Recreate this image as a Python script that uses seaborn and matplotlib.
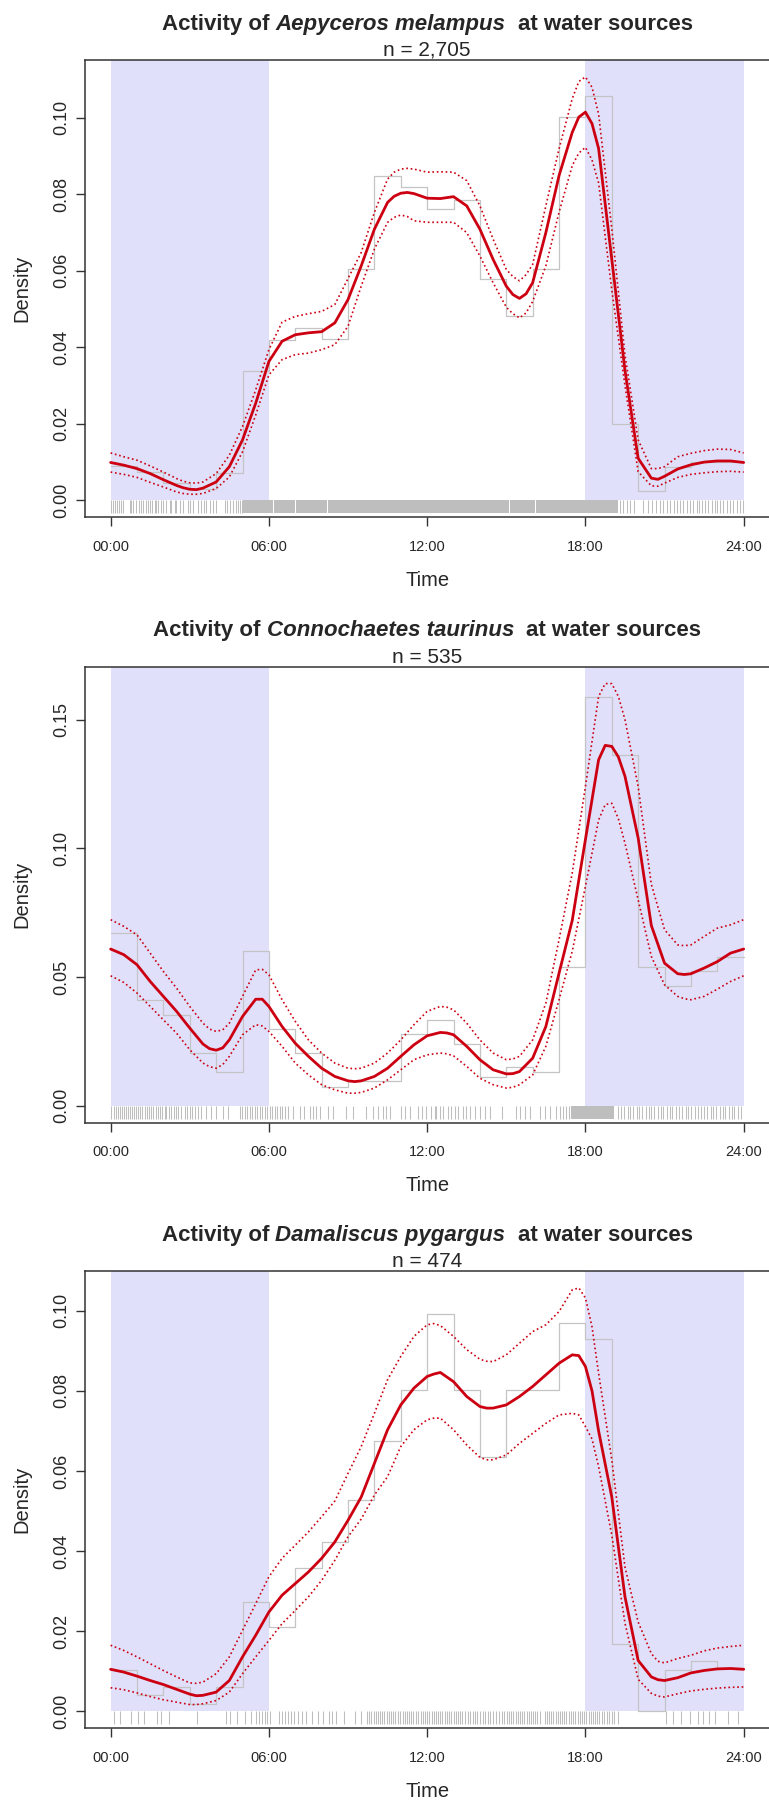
import numpy as np
import pandas as pd
import seaborn as sns
import matplotlib
matplotlib.use("Agg")
import matplotlib.pyplot as plt
from matplotlib.ticker import FormatStrFormatter

sns.set_style("white")
plt.rcParams["font.family"] = ["Liberation Sans", "DejaVu Sans"]

W, H, DPI = 769, 1801, 100

# ---------------- data ----------------
species = ["Aepyceros melampus", "Connochaetes taurinus", "Damaliscus pygargus"]
n_obs = [2705, 535, 474]

hours = [0, 0.5, 1, 1.5, 2, 2.5, 3, 3.5, 4, 4.5, 5, 5.5, 6, 6.5, 7, 7.5, 8, 8.5, 9, 9.5,
         10, 10.5, 11, 11.5, 12, 12.5, 13, 13.5, 14, 14.5, 15, 15.5, 16, 16.5, 17, 17.5,
         18, 18.5, 19, 19.5, 20, 20.5, 21, 21.5, 22, 22.5, 23, 23.5, 24]
bin_edges = list(range(25))
night = [(0, 6), (18, 24)]
tick_hours = [0, 6, 12, 18, 24]
tick_labels = ["00:00", "06:00", "12:00", "18:00", "24:00"]

# Aepyceros melampus
imp_hist = [0.0090, 0.0073, 0.0045, 0.0030, 0.0072, 0.0337, 0.0418, 0.0450, 0.0422, 0.0606,
            0.0849, 0.0819, 0.0761, 0.0786, 0.0580, 0.0482, 0.0606, 0.1003, 0.1056, 0.0200,
            0.0025, 0.0088, 0.0100, 0.0100]
imp_mean = [0.0099, 0.0092, 0.0083, 0.0070, 0.0054, 0.0039, 0.0029, 0.0032, 0.0048, 0.0088,
            0.0158, 0.0254, 0.0363, 0.0416, 0.0433, 0.0438, 0.0441, 0.0464, 0.0525, 0.0613,
            0.0709, 0.0779, 0.0803, 0.0802, 0.0790, 0.0789, 0.0794, 0.0770, 0.0709, 0.0630,
            0.0560, 0.0528, 0.0569, 0.0700, 0.0849, 0.0962, 0.1015, 0.0920, 0.0630, 0.0340,
            0.0110, 0.0058, 0.0063, 0.0082, 0.0093, 0.0100, 0.0103, 0.0103, 0.0099]
imp_upper = [0.0124, 0.0114, 0.0105, 0.0090, 0.0074, 0.0057, 0.0046, 0.0048, 0.0070, 0.0118,
             0.0193, 0.0289, 0.0394, 0.0466, 0.0481, 0.0488, 0.0494, 0.0512, 0.0580, 0.0648,
             0.0753, 0.0840, 0.0866, 0.0866, 0.0858, 0.0859, 0.0858, 0.0836, 0.0770, 0.0683,
             0.0604, 0.0574, 0.0617, 0.0770, 0.0919, 0.1050, 0.1107, 0.1010, 0.0710, 0.0380,
             0.0158, 0.0083, 0.0088, 0.0114, 0.0123, 0.0130, 0.0134, 0.0133, 0.0124]
imp_lower = [0.0074, 0.0068, 0.0060, 0.0047, 0.0035, 0.0022, 0.0016, 0.0018, 0.0031, 0.0061,
             0.0127, 0.0223, 0.0328, 0.0368, 0.0381, 0.0385, 0.0394, 0.0407, 0.0455, 0.0560,
             0.0657, 0.0727, 0.0746, 0.0731, 0.0727, 0.0727, 0.0727, 0.0700, 0.0639, 0.0569,
             0.0505, 0.0477, 0.0520, 0.0613, 0.0753, 0.0875, 0.0923, 0.0830, 0.0550, 0.0300,
             0.0075, 0.0038, 0.0045, 0.0060, 0.0068, 0.0072, 0.0075, 0.0076, 0.0074]
# extra readings around peaks and troughs
imp_x_hours = [2.75, 3.25, 10.75, 11.25, 15.25, 15.75, 17.75, 18.25, 20.75]
imp_x_mean = [0.0033, 0.0028, 0.0795, 0.0805, 0.0538, 0.0540, 0.1002, 0.0985, 0.0055]
imp_x_upper = [0.0050, 0.0045, 0.0858, 0.0868, 0.0585, 0.0590, 0.1095, 0.1080, 0.0083]
imp_x_lower = [0.0018, 0.0016, 0.0740, 0.0742, 0.0488, 0.0490, 0.0908, 0.0890, 0.0037]
imp_rug = [0.03, 0.09, 0.15, 0.24, 0.32, 0.40, 0.47, 0.72, 0.78, 0.85, 0.97, 1.07, 1.16, 1.23,
           1.35, 1.42, 1.48, 1.58, 1.67, 1.73, 1.80, 1.92, 1.99, 2.11, 2.24, 2.30, 2.43, 2.49,
           2.62, 2.74, 2.93, 3.00, 3.12, 3.31, 3.44, 3.53, 3.63, 3.76, 3.88, 4.01, 4.32, 4.41,
           4.51, 4.64, 4.74, 4.83, 4.92, 4.99, 19.31, 19.41, 19.56, 19.69, 19.84, 20.19, 20.38,
           20.51, 20.67, 20.83, 20.95, 21.11, 21.21, 21.34, 21.46, 21.59, 21.71, 21.84, 21.97,
           22.09, 22.22, 22.32, 22.41, 22.54, 22.66, 22.79, 22.92, 23.00, 23.10, 23.23, 23.38,
           23.48, 23.61, 23.74, 23.86, 23.96]
imp_rug_dense = [(5.0, 6.17), (6.21, 6.98), (7.02, 8.22), (8.26, 15.09), (15.13, 16.08),
                 (16.12, 19.22)]

# Connochaetes taurinus
wil_hist = [0.0671, 0.0412, 0.0354, 0.0205, 0.0130, 0.0600, 0.0298, 0.0205, 0.0073, 0.0095,
            0.0095, 0.0278, 0.0334, 0.0241, 0.0111, 0.0150, 0.0130, 0.0539, 0.1588, 0.1364,
            0.0539, 0.0467, 0.0524, 0.0578]
wil_mean = [0.0609, 0.0587, 0.0548, 0.0483, 0.0425, 0.0367, 0.0302, 0.0240, 0.0216, 0.0256,
            0.0347, 0.0414, 0.0386, 0.0308, 0.0243, 0.0192, 0.0146, 0.0114, 0.0097, 0.0097,
            0.0114, 0.0146, 0.0192, 0.0237, 0.0272, 0.0285, 0.0276, 0.0231, 0.0179, 0.0140,
            0.0124, 0.0133, 0.0185, 0.0308, 0.0515, 0.0720, 0.1034, 0.1344, 0.1396, 0.1280,
            0.1040, 0.0700, 0.0554, 0.0513, 0.0513, 0.0535, 0.0560, 0.0593, 0.0609]
wil_upper = [0.0723, 0.0697, 0.0664, 0.0593, 0.0522, 0.0457, 0.0386, 0.0321, 0.0289, 0.0321,
             0.0425, 0.0528, 0.0509, 0.0412, 0.0328, 0.0256, 0.0205, 0.0166, 0.0146, 0.0146,
             0.0166, 0.0205, 0.0256, 0.0315, 0.0367, 0.0386, 0.0373, 0.0321, 0.0256, 0.0205,
             0.0179, 0.0192, 0.0256, 0.0399, 0.0645, 0.0904, 0.1240, 0.1590, 0.1640, 0.1500,
             0.1240, 0.0860, 0.0684, 0.0625, 0.0625, 0.0658, 0.0690, 0.0703, 0.0723]
wil_lower = [0.0505, 0.0479, 0.0438, 0.0386, 0.0334, 0.0282, 0.0218, 0.0166, 0.0146, 0.0192,
             0.0276, 0.0315, 0.0289, 0.0231, 0.0166, 0.0120, 0.0082, 0.0062, 0.0049, 0.0052,
             0.0069, 0.0101, 0.0140, 0.0179, 0.0198, 0.0205, 0.0194, 0.0153, 0.0107, 0.0082,
             0.0069, 0.0082, 0.0120, 0.0231, 0.0412, 0.0600, 0.0852, 0.1110, 0.1175, 0.1020,
             0.0800, 0.0580, 0.0470, 0.0425, 0.0412, 0.0425, 0.0453, 0.0483, 0.0505]
wil_x_hours = [3.75, 4.25, 5.75, 9.25, 12.75, 15.25, 18.75, 19.25, 21.75]
wil_x_mean = [0.0222, 0.0225, 0.0414, 0.0094, 0.0283, 0.0125, 0.1400, 0.1355, 0.0510]
wil_x_upper = [0.0298, 0.0295, 0.0530, 0.0144, 0.0383, 0.0182, 0.1640, 0.1590, 0.0622]
wil_x_lower = [0.0152, 0.0160, 0.0310, 0.0049, 0.0202, 0.0072, 0.1170, 0.1115, 0.0416]
wil_rug = [0.03, 0.11, 0.19, 0.28, 0.34, 0.42, 0.49, 0.57, 0.66, 0.72, 0.81, 0.88, 0.97, 1.04,
           1.13, 1.20, 1.29, 1.38, 1.45, 1.54, 1.61, 1.71, 1.80, 1.88, 1.96, 2.05, 2.11, 2.21,
           2.30, 2.39, 2.47, 2.55, 2.68, 2.81, 2.90, 3.00, 3.10, 3.19, 3.31, 3.44, 3.63, 3.82,
           4.01, 4.26, 4.45, 4.89, 4.99, 5.08, 5.17, 5.27, 5.37, 5.46, 5.55, 5.65, 5.75, 5.84,
           5.93, 6.03, 6.13, 6.22, 6.31, 6.41, 6.51, 6.60, 6.73, 6.92, 7.17, 7.32, 7.55, 7.67,
           7.80, 7.93, 8.24, 8.43, 8.94, 9.19, 9.70, 9.95, 10.14, 10.33, 10.43, 10.58, 11.02,
           11.15, 11.34, 11.66, 11.82, 11.97, 12.16, 12.29, 12.35, 12.48, 12.61, 12.80, 12.92,
           13.05, 13.17, 13.36, 13.49, 13.62, 13.81, 14.00, 14.19, 14.38, 14.82, 15.36, 15.51,
           15.70, 15.89, 16.27, 16.46, 16.65, 16.90, 17.03, 17.16, 17.28, 17.38, 19.25, 19.35,
           19.45, 19.60, 19.70, 19.80, 19.95, 20.05, 20.15, 20.30, 20.40, 20.50, 20.60, 20.75,
           20.85, 20.95, 21.10, 21.20, 21.30, 21.45, 21.55, 21.65, 21.80, 21.90, 22.00, 22.15,
           22.25, 22.40, 22.50, 22.60, 22.75, 22.85, 22.95, 23.10, 23.20, 23.30, 23.45, 23.55,
           23.65, 23.80, 23.90]
wil_rug_dense = [(17.45, 19.10)]

# Damaliscus pygargus
bon_hist = [0.0104, 0.0042, 0.0061, 0.0019, 0.0061, 0.0273, 0.0211, 0.0359, 0.0422, 0.0527,
            0.0675, 0.0801, 0.0992, 0.0801, 0.0634, 0.0801, 0.0801, 0.0969, 0.0929, 0.0169,
            0.0000, 0.0104, 0.0125, 0.0107]
bon_mean = [0.0105, 0.0098, 0.0088, 0.0077, 0.0067, 0.0055, 0.0043, 0.0040, 0.0048, 0.0077,
            0.0136, 0.0190, 0.0248, 0.0290, 0.0319, 0.0348, 0.0382, 0.0423, 0.0477, 0.0535,
            0.0619, 0.0703, 0.0765, 0.0807, 0.0836, 0.0846, 0.0823, 0.0786, 0.0761, 0.0757,
            0.0765, 0.0786, 0.0811, 0.0840, 0.0869, 0.0890, 0.0861, 0.0700, 0.0535, 0.0286,
            0.0127, 0.0086, 0.0077, 0.0084, 0.0096, 0.0102, 0.0106, 0.0107, 0.0105]
bon_upper = [0.0165, 0.0152, 0.0136, 0.0119, 0.0102, 0.0086, 0.0071, 0.0073, 0.0094, 0.0136,
             0.0202, 0.0269, 0.0336, 0.0382, 0.0415, 0.0448, 0.0486, 0.0525, 0.0594, 0.0661,
             0.0744, 0.0828, 0.0886, 0.0936, 0.0965, 0.0963, 0.0936, 0.0903, 0.0879, 0.0873,
             0.0890, 0.0919, 0.0948, 0.0965, 0.0998, 0.1052, 0.1032, 0.0844, 0.0628, 0.0360,
             0.0223, 0.0144, 0.0121, 0.0132, 0.0140, 0.0151, 0.0158, 0.0162, 0.0165]
bon_lower = [0.0059, 0.0054, 0.0046, 0.0037, 0.0029, 0.0023, 0.0017, 0.0019, 0.0027, 0.0048,
             0.0094, 0.0136, 0.0177, 0.0219, 0.0252, 0.0286, 0.0327, 0.0377, 0.0436, 0.0480,
             0.0540, 0.0586, 0.0661, 0.0703, 0.0728, 0.0732, 0.0703, 0.0665, 0.0634, 0.0628,
             0.0640, 0.0669, 0.0694, 0.0719, 0.0740, 0.0744, 0.0711, 0.0611, 0.0440, 0.0220,
             0.0080, 0.0045, 0.0036, 0.0044, 0.0051, 0.0055, 0.0058, 0.0060, 0.0061]
bon_x_hours = [3.25, 12.25, 14.25, 17.75, 18.25, 20.75]
bon_x_mean = [0.0039, 0.0842, 0.0757, 0.0888, 0.0800, 0.0079]
bon_x_upper = [0.0070, 0.0968, 0.0874, 0.1057, 0.0960, 0.0125]
bon_x_lower = [0.0017, 0.0732, 0.0628, 0.0740, 0.0680, 0.0038]
bon_rug = [0.14, 0.35, 0.78, 1.02, 1.26, 1.74, 1.90, 2.22, 3.29, 4.38, 4.54, 4.78, 5.10, 5.34,
           5.50, 5.62, 5.73, 5.85, 5.94, 6.05, 6.37, 6.49, 6.61, 6.74, 6.85, 6.96, 7.09, 7.25,
           7.41, 7.65, 7.86, 8.05, 8.29, 8.40, 8.53, 8.85, 9.25, 9.49, 9.72, 9.80, 9.88, 9.97,
           10.05, 10.12, 10.22, 10.30, 10.38, 10.47, 10.55, 10.63, 10.72, 10.80, 10.90, 10.98,
           11.07, 11.15, 11.23, 11.32, 11.40, 11.48, 11.57, 11.66, 11.75, 11.83, 11.92, 12.00,
           12.08, 12.17, 12.25, 12.33, 12.42, 12.50, 12.58, 12.67, 12.75, 12.83, 12.92, 13.00,
           13.08, 13.17, 13.25, 13.33, 13.42, 13.55, 13.63, 13.72, 13.80, 13.88, 14.00, 14.10,
           14.20, 14.30, 14.40, 14.50, 14.62, 14.72, 14.82, 14.92, 15.02, 15.10, 15.18, 15.27,
           15.35, 15.43, 15.52, 15.60, 15.68, 15.77, 15.85, 15.93, 16.02, 16.10, 16.18, 16.27,
           16.45, 16.53, 16.62, 16.70, 16.78, 16.87, 16.95, 17.03, 17.12, 17.20, 17.28, 17.37,
           17.45, 17.53, 17.62, 17.70, 17.78, 17.87, 17.95, 18.03, 18.12, 18.20, 18.28, 18.37,
           18.45, 18.53, 18.62, 18.70, 18.80, 18.90, 19.00, 19.10, 19.22, 21.07, 21.31, 21.63,
           21.95, 22.27, 22.46, 22.67, 22.91, 23.39, 23.79]
bon_rug_dense = []

# ---------------- style / layout ----------------
NIGHT = "#E0E0FB"
RED = "#CC0011"
HIST = "#C4C4C4"
RUG = "#BEBEBE"
SPINE = "#333333"

# panel boxes in pixels (top, bottom); axes span x from 85 px to the right edge
boxes = [(60, 517.3), (666.7, 1122.7), (1271, 1728.3)]
LEFT_PX = 85.3

fig = plt.figure(figsize=(W / DPI, H / DPI), dpi=DPI)
renderer = fig.canvas.get_renderer()


def draw_title(box_top, name, n):
    center = (LEFT_PX + W) / 2 / W
    y = 1 - (box_top - 30.3) / H
    fs = 16
    sp = fs * DPI / 72 * 0.278
    pieces = [("Activity of", "normal", 1), (name, "italic", 2), ("at water sources", "normal", 0)]
    texts, widths = [], []
    for s, st, _ in pieces:
        t = fig.text(0, y, s, fontsize=fs, fontweight="bold", fontstyle=st,
                     ha="left", va="baseline")
        texts.append(t)
        widths.append(t.get_window_extent(renderer).width)
    total = sum(widths) + 3 * sp
    x = center * W - total / 2
    for t, w, (_, _, nsp) in zip(texts, widths, pieces):
        t.set_x(x / W)
        x += w + nsp * sp
    fig.text(center, 1 - (box_top - 4) / H, f"n = {n:,}", fontsize=15,
             ha="center", va="baseline")


def plot_panel(ax, hist, curves, extra, rug, rug_dense, ystep, box_px):
    df = pd.concat([pd.DataFrame(dict(zip(["hour", "mean", "upper", "lower"], curves))),
                    pd.DataFrame(dict(zip(["hour", "mean", "upper", "lower"], extra)))],
                   ignore_index=True).sort_values("hour")
    top = df["upper"].max()
    ymin, ymax = -0.04 * top, 1.04 * top

    for a, b in night:
        ax.fill_between([a, b], 0, ymax, color=NIGHT, lw=0, zorder=0)

    rug_len = 13.0 / box_px * (ymax - ymin)
    ax.vlines(rug, -rug_len, 0, color=RUG, lw=0.75, zorder=1)
    if rug_dense:
        ax.broken_barh([(a, b - a) for a, b in rug_dense], (-rug_len, rug_len),
                       color=RUG, lw=0, zorder=1)

    mids = np.arange(24) + 0.5
    sns.histplot(x=mids, weights=hist, bins=bin_edges, element="step", fill=False,
                 color=HIST, linewidth=0.9, ax=ax, zorder=2)

    for col in ["upper", "lower"]:
        sns.lineplot(data=df, x="hour", y=col, color=RED, lw=1.2, linestyle=":",
                     ax=ax, zorder=3)
    sns.lineplot(data=df, x="hour", y="mean", color=RED, lw=2.0, ax=ax, zorder=4,
                 solid_joinstyle="round", solid_capstyle="round")

    ax.set_xlim(-0.96, 24.96)
    ax.set_ylim(ymin, ymax)
    ax.set_xticks(tick_hours)
    ax.set_xticklabels(tick_labels)
    ax.set_yticks(np.arange(0, top + 1e-9, ystep))
    ax.yaxis.set_major_formatter(FormatStrFormatter("%.2f"))

    ax.tick_params(axis="both", which="major", direction="out", length=6.5, width=1.0,
                   color=SPINE, bottom=True, left=True)
    ax.tick_params(axis="x", labelsize=10.5, pad=9.5)
    ax.tick_params(axis="y", labelsize=13, pad=4.5)
    for lab in ax.get_yticklabels():
        lab.set_rotation(90)
        lab.set_va("center")

    ax.set_xlabel("Time", fontsize=14.5)
    ax.set_ylabel("Density", fontsize=14.5)
    ax.xaxis.set_label_coords(0.5, -0.117)
    ax.yaxis.set_label_coords(-0.079, 0.5)

    for side in ["top", "left", "bottom"]:
        ax.spines[side].set_color(SPINE)
        ax.spines[side].set_linewidth(1.1)
    ax.spines["right"].set_visible(False)


panels = [
    (imp_hist, (hours, imp_mean, imp_upper, imp_lower),
     (imp_x_hours, imp_x_mean, imp_x_upper, imp_x_lower), imp_rug, imp_rug_dense, 0.02),
    (wil_hist, (hours, wil_mean, wil_upper, wil_lower),
     (wil_x_hours, wil_x_mean, wil_x_upper, wil_x_lower), wil_rug, wil_rug_dense, 0.05),
    (bon_hist, (hours, bon_mean, bon_upper, bon_lower),
     (bon_x_hours, bon_x_mean, bon_x_upper, bon_x_lower), bon_rug, bon_rug_dense, 0.02),
]

for (top_px, bot_px), name, n, p in zip(boxes, species, n_obs, panels):
    ax = fig.add_axes([LEFT_PX / W, 1 - bot_px / H, 1 - LEFT_PX / W, (bot_px - top_px) / H])
    plot_panel(ax, *p, box_px=bot_px - top_px)
    draw_title(top_px, name, n)

fig.savefig("out.png", dpi=DPI)
plt.close("all")
